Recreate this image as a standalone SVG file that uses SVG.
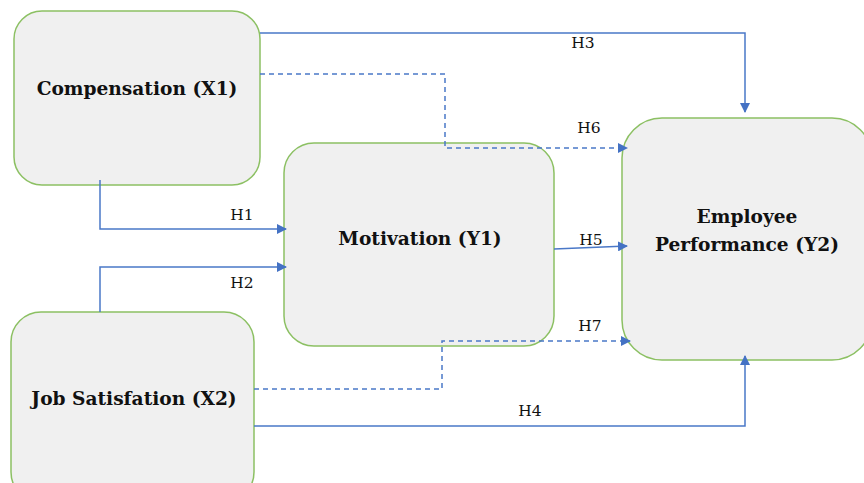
<svg xmlns="http://www.w3.org/2000/svg" width="864" height="483" viewBox="0 0 864 483">
<style>
.node{fill:#f0f0f0;stroke:#8cc063;stroke-width:1.5}
.nt{font-family:"DejaVu Serif","Liberation Serif",serif;font-weight:bold;font-size:18.6px;fill:#111;text-anchor:middle}
.c{fill:none;stroke:#4a78c8;stroke-width:1.5}
.d{stroke-dasharray:5,4}
.lb{font-family:"DejaVu Serif","Liberation Serif",serif;font-size:15.5px;fill:#111;text-anchor:middle}
</style>
<defs>
<marker id="ah" markerWidth="10" markerHeight="10" refX="9" refY="5" orient="auto" markerUnits="userSpaceOnUse"><path d="M0,0 L10,5 L0,10 z" fill="#4472c4"/></marker>
</defs>
<rect width="864" height="483" fill="#fff"/>
<g id="compensation">
<rect class="node" x="14" y="11" width="246" height="174" rx="28"/>
<text class="nt" x="137" y="95">Compensation (X1)</text>
</g>
<g id="motivation">
<rect class="node" x="284" y="143" width="270" height="203" rx="30"/>
<text class="nt" x="420" y="245">Motivation (Y1)</text>
</g>
<g id="performance">
<rect class="node" x="622" y="118" width="250" height="242" rx="40"/>
<text class="nt" x="747" y="223">Employee</text>
<text class="nt" x="747" y="251">Performance (Y2)</text>
</g>
<g id="jobsatisfaction">
<rect class="node" x="11" y="312" width="243" height="190" rx="30"/>
<text class="nt" x="134" y="405">Job Satisfation (X2)</text>
</g>
<g id="connectors">
<path class="c" d="M260,33 H745 V112" marker-end="url(#ah)"/>
<path class="c d" d="M260,74 H445 V148 H627" marker-end="url(#ah)"/>
<path class="c" d="M100,180 V229 H286" marker-end="url(#ah)"/>
<path class="c" d="M100,312 V267 H286" marker-end="url(#ah)"/>
<path class="c" d="M554,249 L627,246" marker-end="url(#ah)"/>
<path class="c d" d="M254,389 H442 V341 H630" marker-end="url(#ah)"/>
<path class="c" d="M254,426 H745 V356" marker-end="url(#ah)"/>
<text class="lb" x="583" y="48">H3</text>
<text class="lb" x="589" y="133">H6</text>
<text class="lb" x="242" y="220">H1</text>
<text class="lb" x="242" y="288">H2</text>
<text class="lb" x="591" y="245">H5</text>
<text class="lb" x="590" y="331">H7</text>
<text class="lb" x="530" y="416">H4</text>
</g>
</svg>
